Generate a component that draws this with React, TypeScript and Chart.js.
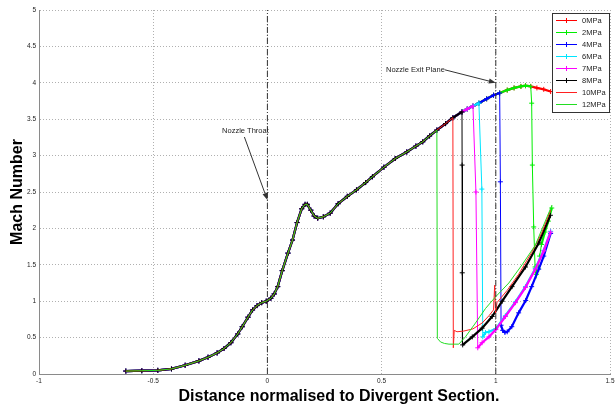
import React, { useEffect, useRef } from 'react';
import { Chart, registerables } from 'chart.js';

Chart.register(...registerables);

// Shared supersonic curve (all cases coincide here until their shock)
const BASE_X = [-0.62, -0.55, -0.48, -0.42, -0.36, -0.30, -0.26, -0.22, -0.19, -0.16, -0.13, -0.11, -0.085, -0.065, -0.045, -0.025, -0.005, 0.015, 0.03, 0.045, 0.065, 0.09, 0.11, 0.13, 0.15, 0.165, 0.175, 0.19, 0.205, 0.22, 0.245, 0.275, 0.31, 0.35, 0.39, 0.43, 0.46, 0.51, 0.56, 0.61, 0.65, 0.68, 0.71, 0.742, 0.78, 0.812, 0.852, 0.875, 0.90, 0.926, 0.96, 0.99, 1.017, 1.05, 1.08, 1.11, 1.13, 1.153, 1.18, 1.21, 1.24];
const BASE_Y = [0.04, 0.045, 0.05, 0.07, 0.12, 0.18, 0.23, 0.29, 0.35, 0.43, 0.55, 0.65, 0.78, 0.88, 0.94, 0.98, 1.0, 1.04, 1.1, 1.2, 1.42, 1.66, 1.84, 2.08, 2.27, 2.33, 2.33, 2.25, 2.17, 2.14, 2.16, 2.21, 2.34, 2.44, 2.53, 2.63, 2.71, 2.84, 2.96, 3.05, 3.13, 3.19, 3.27, 3.35, 3.44, 3.52, 3.60, 3.64, 3.68, 3.72, 3.78, 3.83, 3.86, 3.90, 3.93, 3.95, 3.96, 3.95, 3.93, 3.91, 3.88];

const SERIES_NAMES = ['0MPa', '2MPa', '4MPa', '6MPa', '7MPa', '8MPa', '10MPa', '12MPa'];
// x where each case leaves the shared curve
const LEAVE_X = [1.24, 1.153, 1.017, 0.926, 0.90, 0.852, 0.812, 0.742];

// post-shock branches
const TAIL_0_X: number[] = [];
const TAIL_0_Y: number[] = [];
const TAIL_2_X = [1.157, 1.160, 1.166, 1.172, 1.178, 1.185, 1.192, 1.20, 1.215, 1.23, 1.245];
const TAIL_2_Y = [3.72, 2.87, 2.02, 1.47, 1.37, 1.45, 1.62, 1.78, 1.95, 2.10, 2.28];
const TAIL_4_X = [1.020, 1.023, 1.030, 1.040, 1.050, 1.07, 1.10, 1.131, 1.157, 1.188, 1.21, 1.24];
const TAIL_4_Y = [2.64, 0.67, 0.60, 0.57, 0.58, 0.65, 0.84, 1.01, 1.20, 1.44, 1.62, 1.93];
const TAIL_6_X = [0.939, 0.943, 0.955, 0.97, 1.0, 1.042, 1.086, 1.13, 1.173, 1.21, 1.24];
const TAIL_6_Y = [2.54, 0.51, 0.57, 0.58, 0.62, 0.80, 0.99, 1.20, 1.45, 1.70, 1.96];
const TAIL_7_X = [0.913, 0.921, 0.94, 0.97, 1.0, 1.042, 1.086, 1.13, 1.173, 1.21, 1.24];
const TAIL_7_Y = [2.50, 0.36, 0.43, 0.51, 0.61, 0.79, 0.98, 1.19, 1.44, 1.69, 1.95];
const TAIL_8_X = [0.8525, 0.853, 0.855, 0.897, 0.94, 0.984, 1.028, 1.071, 1.13, 1.188, 1.239];
const TAIL_8_Y = [2.87, 1.39, 0.40, 0.51, 0.63, 0.79, 1.0, 1.2, 1.47, 1.8, 2.18];
const TAIL_10_X = [0.814, 0.818, 0.83, 0.86, 0.90, 0.94, 0.97, 0.99, 0.995, 0.999, 1.005, 1.05, 1.10, 1.157, 1.20, 1.24];
const TAIL_10_Y = [0.36, 0.60, 0.58, 0.59, 0.62, 0.70, 0.80, 0.88, 1.22, 0.84, 0.98, 1.15, 1.37, 1.67, 1.93, 2.25];
const TAIL_12_X = [0.744, 0.758, 0.775, 0.795, 0.838, 0.867, 0.911, 0.955, 0.999, 1.057, 1.115, 1.173, 1.246];
const TAIL_12_Y = [0.49, 0.44, 0.42, 0.41, 0.41, 0.51, 0.70, 0.90, 1.06, 1.25, 1.50, 1.77, 2.32];

const TAILS_X = [TAIL_0_X, TAIL_2_X, TAIL_4_X, TAIL_6_X, TAIL_7_X, TAIL_8_X, TAIL_10_X, TAIL_12_X];
const TAILS_Y = [TAIL_0_Y, TAIL_2_Y, TAIL_4_Y, TAIL_6_Y, TAIL_7_Y, TAIL_8_Y, TAIL_10_Y, TAIL_12_Y];

const COLORS = ['#ff0000', '#00ee00', '#0000ff', '#00e5ff', '#ff00ff', '#000000', '#ff2020', '#22dd22'];
const HAS_MARKERS = [true, true, true, true, true, true, false, false];

const X_TICKS = [-1, -0.5, 0, 0.5, 1, 1.5];
const Y_TICKS = [0, 0.5, 1, 1.5, 2, 2.5, 3, 3.5, 4, 4.5, 5];
const THROAT_X = 0;
const EXIT_X = 1;

const THROAT_TIP = { x: 0, y: 2.39 };
const EXIT_TIP = { x: 1.0, y: 4.0 };

const FONT = '"Liberation Sans", Arial, Helvetica, sans-serif';

function buildSeries(i: number) {
  const pts: { x: number; y: number }[] = [];
  for (let k = 0; k < BASE_X.length; k++) {
    if (BASE_X[k] <= LEAVE_X[i] + 1e-9) pts.push({ x: BASE_X[k], y: BASE_Y[k] });
  }
  const tx = TAILS_X[i];
  const ty = TAILS_Y[i];
  for (let k = 0; k < tx.length; k++) pts.push({ x: tx[k], y: ty[k] });
  return pts;
}

function drawArrow(ctx: CanvasRenderingContext2D, x0: number, y0: number, x1: number, y1: number) {
  ctx.save();
  ctx.strokeStyle = '#333';
  ctx.fillStyle = '#333';
  ctx.lineWidth = 1;
  const ang = Math.atan2(y1 - y0, x1 - x0);
  const len = 7;
  const hw = 2.6;
  const bx = x1 - len * Math.cos(ang);
  const by = y1 - len * Math.sin(ang);
  ctx.beginPath();
  ctx.moveTo(x0, y0);
  ctx.lineTo(bx, by);
  ctx.stroke();
  ctx.beginPath();
  ctx.moveTo(x1, y1);
  ctx.lineTo(bx + hw * Math.sin(ang), by - hw * Math.cos(ang));
  ctx.lineTo(bx - hw * Math.sin(ang), by + hw * Math.cos(ang));
  ctx.closePath();
  ctx.fill();
  ctx.restore();
}

const annotationPlugin = {
  id: 'annotations',
  afterDatasetsDraw(chart: any) {
    const { ctx, scales } = chart;
    const xs = scales.x;
    const ys = scales.y;
    ctx.save();
    ctx.font = `7.5px ${FONT}`;
    ctx.fillStyle = '#222';
    ctx.textBaseline = 'middle';
    // Nozzle throat
    const tx = xs.getPixelForValue(THROAT_TIP.x);
    const ty = ys.getPixelForValue(THROAT_TIP.y);
    ctx.textAlign = 'center';
    ctx.fillText('Nozzle Throat', tx - 22, ty - 69);
    drawArrow(ctx, tx - 23, ty - 63, tx, ty);
    // Nozzle exit plane
    const ex = xs.getPixelForValue(EXIT_TIP.x);
    const ey = ys.getPixelForValue(EXIT_TIP.y);
    ctx.textAlign = 'right';
    ctx.fillText('Nozzle Exit Plane', ex - 51, ey - 13);
    drawArrow(ctx, ex - 51, ey - 13, ex, ey);
    ctx.restore();
  },
};

const legendAndTitles = {
  id: 'legendAndTitles',
  afterDraw(chart: any) {
    const { ctx, chartArea } = chart;
    ctx.save();
    // legend box
    const bx = 552.5, by = 13.5, bw = 57, bh = 99;
    ctx.fillStyle = '#ffffff';
    ctx.fillRect(bx, by, bw, bh);
    ctx.strokeStyle = '#333';
    ctx.lineWidth = 1;
    ctx.strokeRect(bx, by, bw, bh);
    ctx.font = `7.5px ${FONT}`;
    ctx.textBaseline = 'middle';
    ctx.textAlign = 'left';
    SERIES_NAMES.forEach((name, i) => {
      const yy = 20.5 + i * 12;
      ctx.strokeStyle = COLORS[i];
      ctx.lineWidth = 1;
      ctx.beginPath();
      ctx.moveTo(556, yy);
      ctx.lineTo(577, yy);
      ctx.stroke();
      if (HAS_MARKERS[i]) {
        ctx.beginPath();
        ctx.moveTo(566.5, yy - 2.5);
        ctx.lineTo(566.5, yy + 2.5);
        ctx.moveTo(564, yy);
        ctx.lineTo(569, yy);
        ctx.stroke();
      }
      ctx.fillStyle = '#222';
      ctx.fillText(name, 582, yy);
    });
    // axis titles
    ctx.fillStyle = '#000';
    ctx.font = `bold 16px ${FONT}`;
    ctx.textAlign = 'center';
    ctx.textBaseline = 'alphabetic';
    ctx.fillText('Distance normalised to Divergent Section.', 339, 401);
    ctx.save();
    ctx.translate(22, (chartArea.top + chartArea.bottom) / 2);
    ctx.rotate(-Math.PI / 2);
    ctx.fillText('Mach Number', 0, 0);
    ctx.restore();
    ctx.restore();
  },
};

export default function App() {
  const ref = useRef<HTMLCanvasElement | null>(null);

  useEffect(() => {
    if (!ref.current) return;
    const seriesSets = SERIES_NAMES.map((name, i) => {
      const markers = HAS_MARKERS[i];
      return {
        label: name,
        data: buildSeries(i),
        borderColor: COLORS[i],
        backgroundColor: COLORS[i],
        borderWidth: markers ? 2.2 : 1,
        pointStyle: 'cross',
        pointRadius: markers ? 2.5 : 0,
        pointBorderWidth: 1,
        pointBorderColor: COLORS[i],
        tension: 0,
        fill: false,
        order: 10 - i,
        segment: markers
          ? {
              borderWidth: (c: any) =>
                Math.abs(c.p1.x - c.p0.x) < 3 && Math.abs(c.p1.y - c.p0.y) > 8 ? 1 : 2.2,
            }
          : undefined,
      };
    });
    const refLines = [THROAT_X, EXIT_X].map((xv) => ({
      label: 'ref',
      data: [
        { x: xv, y: Y_TICKS[0] },
        { x: xv, y: Y_TICKS[Y_TICKS.length - 1] },
      ],
      borderColor: '#333',
      borderWidth: 1,
      borderDash: [6, 2, 1, 2],
      pointRadius: 0,
      fill: false,
      order: -1,
    }));

    const chart = new Chart(ref.current, {
      type: 'line',
      data: { datasets: [...seriesSets, ...refLines] as any },
      options: {
        animation: false,
        responsive: false,
        devicePixelRatio: 1,
        layout: { padding: { top: 10, right: 3, left: 0, bottom: 0 } },
        plugins: { legend: { display: false }, tooltip: { enabled: false } },
        scales: {
          x: {
            type: 'linear',
            min: X_TICKS[0],
            max: X_TICKS[X_TICKS.length - 1],
            afterBuildTicks: (s: any) => {
              s.ticks = X_TICKS.map((v) => ({ value: v }));
            },
            afterFit: (s: any) => {
              s.height = 33;
              s.paddingLeft = 0;
              s.paddingRight = 0;
            },
            ticks: {
              autoSkip: false,
              maxRotation: 0,
              padding: 3,
              color: '#222',
              font: { size: 6.5, family: FONT },
              callback: (v: any) => String(v),
            },
            grid: { color: '#b0b0b0', drawTicks: false, tickLength: 0 },
            border: { color: '#8a8a8a', width: 1, dash: [1, 2] },
          },
          y: {
            type: 'linear',
            min: Y_TICKS[0],
            max: Y_TICKS[Y_TICKS.length - 1],
            afterBuildTicks: (s: any) => {
              s.ticks = Y_TICKS.map((v) => ({ value: v }));
            },
            afterFit: (s: any) => {
              s.width = 39;
              s.paddingTop = 0;
              s.paddingBottom = 0;
            },
            ticks: {
              autoSkip: false,
              padding: 3,
              color: '#222',
              font: { size: 6.5, family: FONT },
              callback: (v: any) => String(v),
            },
            grid: { color: '#b0b0b0', drawTicks: false, tickLength: 0 },
            border: { color: '#8a8a8a', width: 1, dash: [1, 2] },
          },
        },
      },
      plugins: [annotationPlugin, legendAndTitles],
    });
    return () => chart.destroy();
  }, []);

  return (
    <div style={{ position: 'fixed', left: 0, top: 0, width: 615, height: 407, background: '#fff' }}>
      <canvas ref={ref} width={615} height={407} style={{ display: 'block', width: 615, height: 407 }} />
    </div>
  );
}
